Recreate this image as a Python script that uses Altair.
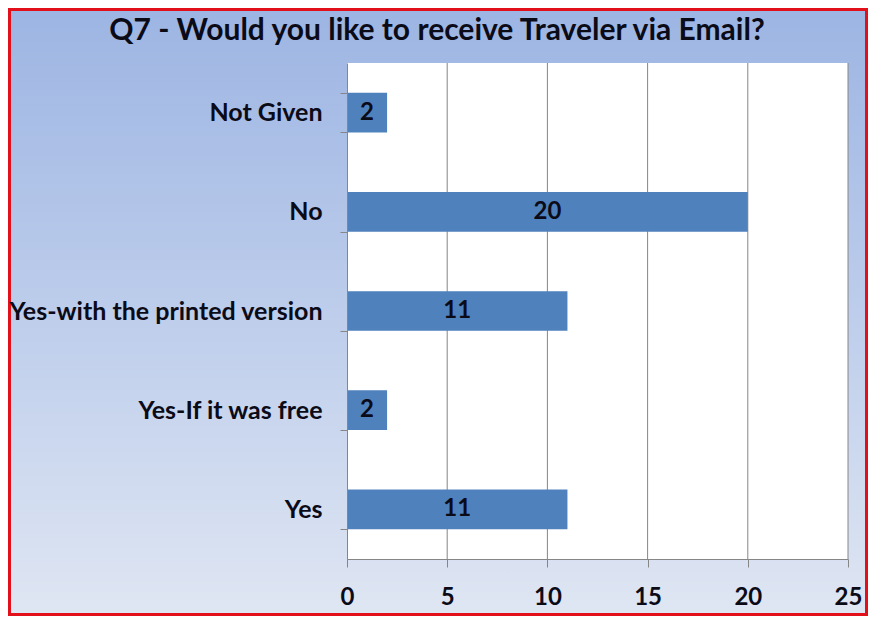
import altair as alt
import pandas as pd

categories = ["Not Given", "No", "Yes-with the printed version", "Yes-If it was free", "Yes"]
counts = [2, 20, 11, 2, 11]
grid_values = [5, 10, 15, 20, 25]
x_ticks = [0, 5, 10, 15, 20, 25]
title_text = "Q7 - Would you like to receive Traveler via Email?"

df = pd.DataFrame({"answer": categories, "count": counts})
grid_df = pd.DataFrame({"v": grid_values})

W, H = 501, 496
PL, PT, PR, PB = 339, 55, 20, 57
FONT = "Lato"
TXT = "#0b0b18"

x_scale = alt.Scale(domain=[0, 25], nice=False, zero=True)
y_scale = alt.Scale(domain=categories, paddingInner=0.6, paddingOuter=0.3)

bg = alt.Chart(alt.Data(values=[{}])).mark_rect(
    fill=alt.LinearGradient(
        gradient="linear", x1=0, y1=0, x2=0, y2=1,
        stops=[alt.GradientStop(offset=0, color="#9DB5E3"),
               alt.GradientStop(offset=0.5, color="#BDCDEB"),
               alt.GradientStop(offset=1, color="#DFE6F3")]),
    stroke="#E2101A", strokeWidth=3,
).encode(
    x=alt.value(-PL + 1.5), x2=alt.value(W + PR - 1.5),
    y=alt.value(-PT + 1.5), y2=alt.value(H + PB - 1.5),
)

plot_bg = alt.Chart(alt.Data(values=[{}])).mark_rect(fill="white").encode(
    x=alt.value(0), x2=alt.value(W), y=alt.value(0), y2=alt.value(H)
)

grid = alt.Chart(grid_df).mark_rule(color="#868686", strokeWidth=1).encode(
    x=alt.X("v:Q", scale=x_scale),
    y=alt.value(0), y2=alt.value(H),
)

base = alt.Chart(df)

bars = base.mark_bar(color="#4F81BD").encode(
    x=alt.X("count:Q", scale=x_scale,
            axis=alt.Axis(values=x_ticks, title=None, grid=False, zindex=1,
                          labelFlush=False,
                          domainColor="#868686", tickColor="#868686", tickSize=8,
                          labelFont=FONT, labelFontSize=24, labelFontWeight="bold",
                          labelColor=TXT, labelPadding=18)),
    y=alt.Y("answer:N", scale=y_scale, sort=categories,
            axis=alt.Axis(title=None, zindex=1, tickBand="extent",
                          domainColor="#868686", tickColor="#868686", tickSize=7,
                          labelFont=FONT, labelFontSize=25, labelFontWeight="bold",
                          labelColor=TXT, labelPadding=18, labelLimit=400)),
)

labels = base.mark_text(font=FONT, fontSize=24, fontWeight="bold", color=TXT,
                        baseline="middle", align="center").encode(
    x=alt.X("mid:Q", scale=x_scale),
    y=alt.Y("answer:N", scale=y_scale, sort=categories),
    text="count:Q",
).transform_calculate(mid="datum.count / 2")

title = alt.Chart(alt.Data(values=[{"t": title_text}])).mark_text(
    font=FONT, fontSize=30, fontWeight="bold", color=TXT,
    align="center", baseline="alphabetic",
).encode(x=alt.value(90), y=alt.value(-23), text="t:N")

chart = alt.layer(bg, plot_bg, grid, bars, labels, title).properties(
    width=W, height=H,
    autosize=alt.AutoSizeParams(type="none"),
    padding={"left": PL, "top": PT, "right": PR, "bottom": PB},
).configure_view(stroke=None)

chart.save("out.html", embed_options={"renderer": "svg", "actions": False})
